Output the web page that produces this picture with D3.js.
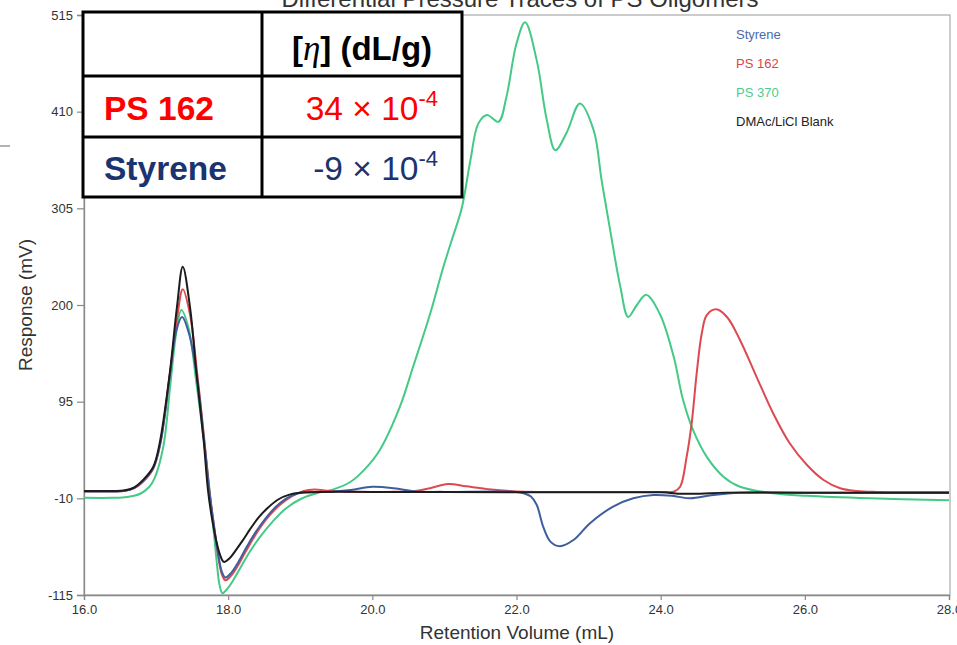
<!DOCTYPE html>
<html>
<head>
<meta charset="utf-8">
<script src="https://cdn.jsdelivr.net/npm/d3@7"></script>
<style>
  html, body { margin: 0; padding: 0; background: #fff; }
  svg { display: block; font-family: "Liberation Sans", Arial, sans-serif; }
</style>
</head>
<body>
<div id="chart"></div>
<script>
// data: [retention volume (mL), response (mV)]
const blankTrace = [
  [16.0, -2], [16.4, -2], [16.55, -1.5], [16.7, 2], [16.82, 10], [16.96, 24],
  [17.05, 50], [17.19, 126], [17.29, 198], [17.37, 241.6], [17.47, 198],
  [17.56, 126], [17.66, 53], [17.72, -1], [17.78, -34], [17.84, -58],
  [17.89, -72], [17.94, -79], [18.02, -75], [18.1, -67], [18.2, -56],
  [18.3, -44], [18.42, -31], [18.54, -21], [18.7, -11], [18.85, -6],
  [19.0, -4], [19.3, -3], [20, -3], [21, -3.2], [22, -3.3], [23, -3.5],
  [24, -3.5], [24.3, -5], [24.55, -5], [24.9, -3.8], [26, -3.8], [28, -4]
];

const ps162Trace = [
  [16.0, -2.5], [16.4, -2.5], [16.55, -2], [16.7, 1], [16.82, 8], [16.96, 22],
  [17.06, 50], [17.19, 124], [17.29, 185], [17.37, 217], [17.47, 190],
  [17.57, 126], [17.67, 53], [17.74, -2], [17.8, -38], [17.86, -72],
  [17.91, -92], [17.96, -99], [18.03, -95], [18.12, -85], [18.22, -71],
  [18.33, -56], [18.45, -41], [18.58, -28], [18.72, -17], [18.88, -8],
  [19.05, -2], [19.2, -0.5], [19.4, -2], [19.7, -3], [20.2, -3], [20.6, -2],
  [20.8, 1], [21.05, 5.5], [21.3, 3], [21.6, 0], [22.0, -2.5], [23, -3],
  [24.0, -3], [24.18, -2.8], [24.27, 2.6], [24.36, 35], [24.43, 71.5],
  [24.5, 126], [24.57, 169], [24.64, 189], [24.77, 195.3], [24.92, 187],
  [25.1, 162], [25.33, 122], [25.56, 82.4], [25.79, 49.8], [26.03, 26.2],
  [26.26, 9.9], [26.49, 0.9], [26.72, -2], [27, -3], [28, -3.5]
];

const styreneTrace = [
  [16.0, -2.5], [16.4, -2.5], [16.55, -2], [16.7, 1.5], [16.82, 9], [16.96, 23],
  [17.06, 50], [17.19, 123], [17.28, 172], [17.36, 187], [17.46, 168],
  [17.57, 120], [17.67, 50], [17.74, -3], [17.8, -38], [17.86, -70],
  [17.91, -89], [17.96, -96], [18.03, -92], [18.12, -82], [18.22, -68],
  [18.33, -53], [18.45, -39], [18.58, -26], [18.72, -15], [18.88, -7],
  [19.05, -3.5], [19.4, -3], [19.7, -1], [20.0, 2.5], [20.3, 1], [20.6, -2.5],
  [21, -3], [22.0, -3], [22.1, -4.5], [22.2, -8], [22.28, -17], [22.37, -40.8],
  [22.47, -57], [22.6, -62], [22.79, -55.3], [23.02, -37], [23.34, -19],
  [23.62, -10], [23.9, -6.4], [24.18, -7.5], [24.41, -10], [24.73, -6.4],
  [25.1, -4], [26, -4], [28, -4]
];

const ps370Trace = [
  [16.0, -9.5], [16.4, -9.5], [16.6, -8.5], [16.78, -5], [16.9, 2], [16.98, 12],
  [17.1, 46], [17.2, 115], [17.28, 170], [17.35, 194.6], [17.45, 175],
  [17.56, 115], [17.68, 42], [17.74, 0], [17.79, -38], [17.84, -78],
  [17.88, -104], [17.92, -113], [17.98, -109], [18.07, -99], [18.18, -84],
  [18.3, -68], [18.45, -51], [18.62, -35], [18.8, -21], [19.0, -11],
  [19.25, -4], [19.45, -0.5], [19.7, 8], [19.9, 22], [20.1, 42], [20.38, 89],
  [20.57, 134], [20.8, 190], [20.98, 240], [21.1, 270], [21.24, 305],
  [21.36, 357], [21.47, 397], [21.59, 406.4], [21.75, 399], [21.86, 426],
  [22.0, 484], [22.12, 507], [22.28, 466], [22.42, 401], [22.54, 368],
  [22.7, 388], [22.88, 419], [23.07, 390], [23.18, 336], [23.3, 281],
  [23.44, 220], [23.55, 187], [23.67, 200], [23.8, 211], [23.99, 190],
  [24.18, 144], [24.31, 97], [24.45, 64], [24.64, 35], [24.87, 13.5],
  [25.1, 2.6], [25.56, -4.5], [26.03, -7.3], [26.9, -10], [28, -12]
];

const legendNames = ["Styrene", "PS 162", "PS 370", "DMAc/LiCl Blank"];
const xTicks = [16, 18, 20, 22, 24, 26, 28];
const yTicks = [-115, -10, 95, 200, 305, 410, 515];

// inset table
const tableHeader = "(dL/g)";
const tableNames = ["PS 162", "Styrene"];
const tableMantissa = ["34", "-9"];
const tableExponent = ["-4", "-4"];

const width = 957;
const height = 645;

const lineColors = {
  "Styrene": "#3f5e9e",
  "PS 162": "#dc4a50",
  "PS 370": "#45c987",
  "DMAc/LiCl Blank": "#1c1c1c"
};
const legendColors = {
  "Styrene": "#4d6aa8",
  "PS 162": "#d9434c",
  "PS 370": "#4ccc8c",
  "DMAc/LiCl Blank": "#222"
};
const tableColors = ["#ff0000", "#1b3470"];

const svg = d3.select("#chart").append("svg")
  .attr("width", width)
  .attr("height", height);

const x = d3.scaleLinear().domain([16, 28]).range([84, 949]);
const y = d3.scaleLinear().domain([-115, 515]).range([595, 15]);

// title (top half is cut off in the original)
svg.append("text")
  .attr("x", 520)
  .attr("y", 7)
  .attr("text-anchor", "middle")
  .attr("font-size", 24)
  .attr("fill", "#333")
  .text("Differential Pressure Traces of PS Oligomers");

// frame
svg.append("rect")
  .attr("x", x(16)).attr("y", y(515))
  .attr("width", x(28) - x(16) + 1).attr("height", y(-115) - y(515))
  .attr("fill", "none")
  .attr("stroke", "#aaa")
  .attr("stroke-width", 1.2);

//axes
const yAxis = svg.append("g")
  .attr("transform", `translate(${x(16)},0)`)
  .call(d3.axisLeft(y).tickValues(yTicks).tickFormat((d) => String(d)).tickSize(7).tickPadding(4));
const xAxis = svg.append("g")
  .attr("transform", `translate(0,${y(-115)})`)
  .call(d3.axisBottom(x).tickValues(xTicks).tickFormat((d) => d.toFixed(1)).tickSize(5).tickPadding(5));

for (const ax of [xAxis, yAxis]) {
  ax.select(".domain").attr("stroke", "#888").attr("stroke-width", 1.3);
  ax.selectAll(".tick line").attr("stroke", "#888").attr("stroke-width", 1.2);
  ax.selectAll(".tick text")
    .attr("font-family", "Liberation Sans, Arial, sans-serif")
    .attr("font-size", 13)
    .attr("fill", "#333");
}

svg.append("text")
  .attr("transform", "translate(32,305) rotate(-90)")
  .attr("text-anchor", "middle")
  .attr("font-size", 19)
  .attr("fill", "#333")
  .text("Response (mV)");

svg.append("text")
  .attr("x", 517)
  .attr("y", 639)
  .attr("text-anchor", "middle")
  .attr("font-size", 19)
  .attr("fill", "#333")
  .text("Retention Volume (mL)");

// stray mark at the left edge of the scan
svg.append("line")
  .attr("x1", 0).attr("x2", 10).attr("y1", 146).attr("y2", 146)
  .attr("stroke", "#999").attr("stroke-width", 1.5);

//traces
const line = d3.line()
  .x((d) => x(d[0]))
  .y((d) => y(d[1]))
  .curve(d3.curveCatmullRom.alpha(0.5));

const traces = [
  ["PS 370", ps370Trace],
  ["PS 162", ps162Trace],
  ["Styrene", styreneTrace],
  ["DMAc/LiCl Blank", blankTrace]
];

svg.append("g")
  .selectAll("path")
  .data(traces)
  .join("path")
  .attr("d", (d) => line(d[1]))
  .attr("fill", "none")
  .attr("stroke", (d) => lineColors[d[0]])
  .attr("stroke-width", 2)
  .attr("stroke-linejoin", "round");

// legend
svg.append("g")
  .selectAll("text")
  .data(legendNames)
  .join("text")
  .attr("x", 736)
  .attr("y", (d, i) => 39 + i * 29)
  .attr("font-size", 13)
  .attr("fill", (d) => legendColors[d])
  .text((d) => d);

// table
const tbl = svg.append("g");
const tx0 = 83, tx1 = 262, tx2 = 462;
const rowY = [12, 76, 137, 197];

tbl.append("rect")
  .attr("x", tx0).attr("y", rowY[0])
  .attr("width", tx2 - tx0).attr("height", rowY[3] - rowY[0])
  .attr("fill", "#fff")
  .attr("stroke", "#000")
  .attr("stroke-width", 3);
tbl.append("line")
  .attr("x1", tx1).attr("x2", tx1).attr("y1", rowY[0]).attr("y2", rowY[3])
  .attr("stroke", "#000").attr("stroke-width", 3);
tbl.selectAll("line.row")
  .data([rowY[1], rowY[2]])
  .join("line")
  .attr("class", "row")
  .attr("x1", tx0).attr("x2", tx2)
  .attr("y1", (d) => d).attr("y2", (d) => d)
  .attr("stroke", "#000").attr("stroke-width", 3);

const head = tbl.append("text")
  .attr("x", 362)
  .attr("y", 60)
  .attr("text-anchor", "middle")
  .attr("font-size", 33)
  .attr("font-weight", "bold")
  .attr("fill", "#000");
head.append("tspan").text("[");
head.append("tspan")
  .attr("font-family", "Liberation Serif, Times New Roman, serif")
  .attr("font-style", "italic")
  .attr("font-weight", "normal")
  .attr("font-size", 35)
  .text("\u03b7");
head.append("tspan").text("] " + tableHeader);

tableNames.forEach((name, i) => {
  const base = i === 0 ? 120 : 180;
  tbl.append("text")
    .attr("x", 104)
    .attr("y", base)
    .attr("font-size", 33.5)
    .attr("font-weight", "bold")
    .attr("fill", tableColors[i])
    .text(name);

  const v = tbl.append("text")
    .attr("x", 438)
    .attr("y", base)
    .attr("text-anchor", "end")
    .attr("font-size", 33.5)
    .attr("fill", tableColors[i]);
  v.append("tspan").text(tableMantissa[i] + " \u00d7 10");
  v.append("tspan")
    .attr("dy", -14)
    .attr("font-size", 22)
    .text(tableExponent[i]);
});
</script>
</body>
</html>
